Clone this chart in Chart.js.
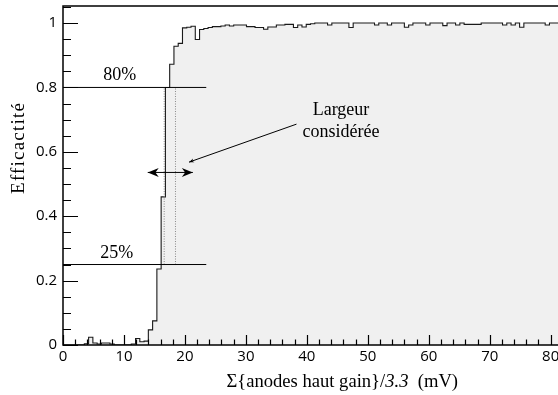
<!DOCTYPE html>
<html>
<head>
<meta charset="utf-8">
<script src="https://cdn.jsdelivr.net/npm/chart.js@4"></script>
<style>
  html, body { margin: 0; padding: 0; background: #fff; }
  #wrap { width: 558px; height: 395px; }
</style>
</head>
<body>
<div id="wrap"><canvas id="c"></canvas></div>
<script>
// histogram: bins of 0.7 starting at 0
const binWidth = 0.7;
const efficiency = [
  0, 0, 0, 0, 0, 0, 0.004, 0.024, 0.006, 0.003,
  0.006, 0.006, 0.003, 0, 0, 0, 0, 0.003, 0.020, 0.010,
  0.012, 0.047, 0.075, 0.236, 0.460, 0.800, 0.872, 0.928, 0.937, 0.985,
  0.987, 0.990, 0.949, 0.980, 0.983, 0.986, 0.989, 0.989, 0.991, 0.994,
  0.991, 0.994, 0.994, 0.994, 0.989, 0.989, 0.986, 0.986, 0.981, 0.988,
  0.988, 0.994, 0.994, 0.996, 0.996, 0.986, 0.994, 0.988, 0.996, 0.998,
  1, 1, 1, 0.994, 1, 1, 1, 1, 0.986, 1,
  1, 1, 1, 1, 0.994, 1, 1, 0.994, 1, 1,
  1, 0.987, 0.994, 1, 1, 1, 0.994, 1, 1, 1,
  0.992, 1, 1, 0.994, 1, 0.996, 0.996, 0.996, 0.996, 1,
  1, 1, 1, 1, 0.994, 1, 0.994, 1, 0.987, 1,
  1, 1, 1, 1, 0.994, 1
];
const xTicks = [0, 10, 20, 30, 40, 50, 60, 70, 80];
const yTicks = [0, 0.2, 0.4, 0.6, 0.8, 1];
const yTickLabels = ['0', '0.2', '0.4', '0.6', '0.8', '1'];
const thresholds = [0.8, 0.25];
const thresholdLabels = ['80%', '25%'];
const thresholdEnd = 23.5;
const widthEdges = [16.6, 18.45];
const widthArrow = [[13.9, 0.536], [21.3, 0.536]];
const pointerLine = [[38.3, 0.686], [20.67, 0.568]];
const noteLines = ['Largeur', 'considérée'];

const xMax = efficiency.length * binWidth;

const histo = efficiency.map((v, i) => ({ x: i * binWidth, y: v }));
histo.push({ x: xMax, y: efficiency[efficiency.length - 1] });

const serif = '"Liberation Serif", "DejaVu Serif", serif';
const tickFont = { family: '"Open Sans", sans-serif', size: 15 };

function head(ctx, x, y, ang, len, hw) {
  const c = Math.cos(ang), s = Math.sin(ang);
  ctx.beginPath();
  ctx.moveTo(x, y);
  ctx.lineTo(x - len * c - hw * s, y - len * s + hw * c);
  ctx.lineTo(x - 0.7 * len * c, y - 0.7 * len * s);
  ctx.lineTo(x - len * c + hw * s, y - len * s - hw * c);
  ctx.closePath();
  ctx.fill();
}

const decor = {
  id: 'decor',
  afterDatasetsDraw(chart) {
    const { ctx, chartArea: a, scales: { x, y } } = chart;
    ctx.save();
    ctx.fillStyle = '#000';
    // arrow heads
    chart.data.datasets.forEach((ds, i) => {
      if (!ds.arrow) return;
      const p = chart.getDatasetMeta(i).data;
      const p0 = p[0], p1 = p[p.length - 1];
      const ang = Math.atan2(p1.y - p0.y, p1.x - p0.x);
      head(ctx, p1.x, p1.y, ang, ds.arrow.len, ds.arrow.hw);
      if (ds.arrow.both) head(ctx, p0.x, p0.y, ang + Math.PI, ds.arrow.len, ds.arrow.hw);
    });
    // frame
    ctx.strokeStyle = '#000';
    ctx.lineWidth = 1.5;
    ctx.beginPath();
    ctx.moveTo(a.right, a.top); ctx.lineTo(a.left, a.top);
    ctx.lineTo(a.left, a.bottom); ctx.lineTo(a.right, a.bottom);
    ctx.stroke();
    // inward ticks
    ctx.lineWidth = 1.2;
    ctx.beginPath();
    for (let v = 0; v <= xMax; v += 2) {
      const px = Math.round(x.getPixelForValue(v)) + 0.5;
      const len = v % 10 === 0 ? 10 : 5.5;
      ctx.moveTo(px, a.bottom); ctx.lineTo(px, a.bottom - len);
    }
    for (let k = 0; k <= 21; k++) {
      const v = k * 0.05;
      const py = Math.round(y.getPixelForValue(v)) + 0.5;
      const len = k % 4 === 0 ? 15 : 8;
      ctx.moveTo(a.left, py); ctx.lineTo(a.left + len, py);
    }
    ctx.stroke();
    // labels
    ctx.font = '18px ' + serif;
    ctx.textAlign = 'center';
    ctx.textBaseline = 'alphabetic';
    ctx.fillText(thresholdLabels[0], x.getPixelForValue(9.3), y.getPixelForValue(0.8) - 7);
    ctx.fillText(thresholdLabels[1], x.getPixelForValue(8.8), y.getPixelForValue(0.25) - 7);
    ctx.textBaseline = 'middle';
    ctx.fillText(noteLines[0], x.getPixelForValue(45.6), y.getPixelForValue(0.73));
    ctx.fillText(noteLines[1], x.getPixelForValue(45.6), y.getPixelForValue(0.662));
    // x title, right aligned
    const parts = [['Σ{anodes haut gain}/', ''], ['3.3', 'italic '], ['  (mV)', '']];
    let w = 0;
    parts.forEach(p => { ctx.font = p[1] + '18.6px ' + serif; w += ctx.measureText(p[0]).width; });
    let tx = x.getPixelForValue(64.8) - w;
    ctx.textAlign = 'left';
    parts.forEach(p => {
      ctx.font = p[1] + '18.6px ' + serif;
      ctx.fillText(p[0], tx, a.bottom + 37);
      tx += ctx.measureText(p[0]).width;
    });
    // y title
    ctx.translate(19, y.getPixelForValue(0.755));
    ctx.rotate(-Math.PI / 2);
    ctx.font = '19px ' + serif;
    ctx.letterSpacing = '1.2px';
    ctx.textAlign = 'right';
    ctx.fillText('Efficactité', 0, 0);
    ctx.restore();
  }
};

const lineSet = (pts, extra) => Object.assign({
  data: pts.map(p => ({ x: p[0], y: p[1] })),
  borderColor: '#000', borderWidth: 1, pointRadius: 0, fill: false, order: 1
}, extra);

new Chart(document.getElementById('c'), {
  type: 'line',
  data: {
    datasets: [
      {
        data: histo, stepped: 'after', borderColor: '#1a1a1a', borderWidth: 1.1,
        backgroundColor: '#f0f0f0', fill: 'origin', pointRadius: 0, order: 5
      },
      lineSet([[0, thresholds[0]], [thresholdEnd, thresholds[0]]]),
      lineSet([[0, thresholds[1]], [thresholdEnd, thresholds[1]]]),
      lineSet([[widthEdges[0], thresholds[1]], [widthEdges[0], thresholds[0]]], { borderColor: '#888', borderDash: [1, 1.5] }),
      lineSet([[widthEdges[1], thresholds[1]], [widthEdges[1], thresholds[0]]], { borderColor: '#888', borderDash: [1, 1.5] }),
      lineSet(widthArrow, { arrow: { both: true, len: 11, hw: 4.5 } }),
      lineSet(pointerLine, { arrow: { both: false, len: 5, hw: 2 } })
    ]
  },
  options: {
    responsive: true,
    maintainAspectRatio: false,
    animation: false,
    layout: { padding: { top: 6, left: 0, right: 0, bottom: 0 } },
    plugins: { legend: { display: false }, tooltip: { enabled: false } },
    scales: {
      x: {
        type: 'linear', min: 0, max: xMax,
        grid: { display: false, drawTicks: false }, border: { display: false },
        afterBuildTicks: s => { s.ticks = xTicks.map(v => ({ value: v })); },
        afterFit: s => { s.height = 50; s.paddingLeft = 0; s.paddingRight = 0; },
        ticks: { font: tickFont, color: '#000', padding: 3, maxRotation: 0, autoSkip: false }
      },
      y: {
        type: 'linear', min: 0, max: 1.053,
        grid: { display: false, drawTicks: false }, border: { display: false },
        afterBuildTicks: s => { s.ticks = yTicks.map(v => ({ value: v })); },
        afterFit: s => { s.width = 63; s.paddingTop = 0; s.paddingBottom = 0; },
        ticks: {
          font: tickFont, color: '#000', padding: 6,
          callback: v => yTickLabels[yTicks.indexOf(v)]
        }
      }
    }
  },
  plugins: [decor]
});
</script>
</body>
</html>
